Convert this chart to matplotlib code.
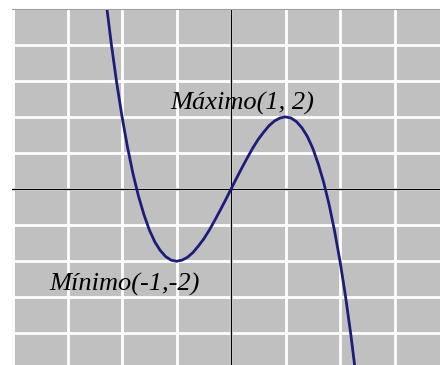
import numpy as np
import matplotlib
matplotlib.use("Agg")
import matplotlib.pyplot as plt

# points (max at (1, 2), min at (-1, -2))
xs = [-2.3, -2.2, -2.1, -2.0, -1.9, -1.8, -1.7, -1.6, -1.5, -1.4, -1.3, -1.2,
      -1.1, -1.0, -0.9, -0.8, -0.7, -0.6, -0.5, -0.4, -0.3, -0.2, -0.1, 0.0,
      0.1, 0.2, 0.3, 0.4, 0.5, 0.6, 0.7, 0.8, 0.9, 1.0, 1.1, 1.2, 1.3, 1.4,
      1.5, 1.6, 1.7, 1.8, 1.9, 2.0, 2.1, 2.2, 2.3]
ys = [5.27, 4.05, 2.96, 2.00, 1.16, 0.43, -0.19, -0.70, -1.13, -1.46, -1.70, -1.87,
      -1.97, -2.00, -1.97, -1.89, -1.76, -1.58, -1.38, -1.14, -0.87, -0.59, -0.30, 0.00,
      0.30, 0.59, 0.87, 1.14, 1.38, 1.58, 1.76, 1.89, 1.97, 2.00, 1.97, 1.87, 1.70, 1.46,
      1.13, 0.70, 0.19, -0.43, -1.16, -2.00, -2.96, -4.05, -5.27]

max_label = "Máximo(1, 2)"
min_label = "Mínimo(-1,-2)"

fig = plt.figure(figsize=(4.4, 3.65), dpi=100)
ax = fig.add_axes([12 / 440, 0, 428 / 440, 1 - 9 / 365])
ax.set_facecolor("#c0c0c0")

ax.set_xlim(-4.02, 3.835)
ax.set_ylim(-4.875, 4.99)
ax.set_xticks(np.arange(-4, 4))
ax.set_yticks(np.arange(-4, 5))
ax.grid(True, color="white", linewidth=2)
ax.set_axisbelow(True)
ax.tick_params(length=0, labelbottom=False, labelleft=False)
for s in ax.spines.values():
    s.set_visible(False)
ax.spines["top"].set_visible(True)
ax.spines["top"].set_color("#a0a0a0")

ax.axhline(0, color="black", linewidth=1)
ax.axvline(0, color="black", linewidth=1)

ax.plot(xs, ys, color="#1c1c7a", linewidth=2, solid_capstyle="round")

font = dict(family="Liberation Serif", style="italic", fontsize=19)
ax.text(-1.12, 2.19, max_label, ha="left", va="baseline", **font)
ax.text(-3.34, -2.81, min_label, ha="left", va="baseline", **font)

fig.savefig("out.png", dpi=100)
